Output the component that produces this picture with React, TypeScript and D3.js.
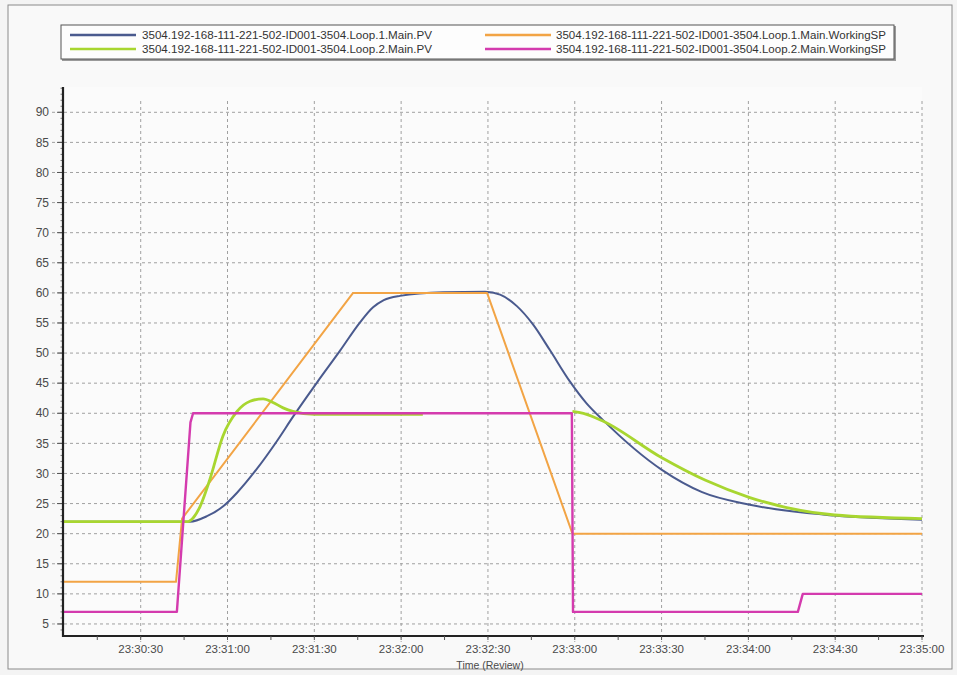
import React from "react";
import * as d3 from "d3";

// ---- data (time = seconds after 23:30:00) ----
const seriesNames = [
  "3504.192-168-111-221-502-ID001-3504.Loop.1.Main.PV",
  "3504.192-168-111-221-502-ID001-3504.Loop.1.Main.WorkingSP",
  "3504.192-168-111-221-502-ID001-3504.Loop.2.Main.PV",
  "3504.192-168-111-221-502-ID001-3504.Loop.2.Main.WorkingSP",
];
const seriesColors = ["#4a5a8e", "#f2a445", "#a8d630", "#d43bae"];

const loop1PvTime = [3.15, 47, 52.9, 58.4, 63.3, 70.2, 77.1, 82.6, 90.9, 98.9, 105.8, 110.3, 114, 119.6, 134.5, 149.0, 154.2, 160.0, 165.5, 171.4, 178.3, 184, 189.7, 210.1, 224, 240.5, 269.8, 300];
const loop1PvValue = [22, 22, 22.9, 24.5, 26.8, 30.8, 35.4, 39.4, 45.1, 50.4, 55.1, 57.6, 58.8, 59.5, 60.1, 60.2, 59.7, 57.8, 54.8, 50.5, 45.3, 41.7, 38.9, 30.6, 26.9, 24.8, 23.0, 22.3];

const loop1SpTime = [3.15, 42.2, 44.3, 103.4, 149.7, 179.2, 300];
const loop1SpValue = [12, 12, 22.5, 60, 60, 20, 20];

const loop2PvTime = [3.15, 46.3, 48.1, 50.5, 53.9, 58.4, 63.3, 67.8, 72.3, 75.7, 79.2, 82.6, 90, 127.5, 128, 179.2, 183, 189.7, 210.1, 225, 240.5, 269.8, 300];
const loop2PvValue = [22, 22, 22.6, 24.5, 29, 36.2, 40.3, 42, 42.4, 41.8, 40.9, 40.3, 39.8, 39.8, null, 40.3, 40.0, 38.7, 32.6, 28.9, 26.0, 23.1, 22.5];

const loop2SpTime = [3.15, 42.5, 47.2, 48.1, 179.0, 179.4, 257.1, 258.8, 300];
const loop2SpValue = [7, 7, 38.5, 40, 40, 7, 7, 10, 10];

const xTickLabels = ["23:30:30", "23:31:00", "23:31:30", "23:32:00", "23:32:30", "23:33:00", "23:33:30", "23:34:00", "23:34:30", "23:35:00"];
const yTickValues = [5, 10, 15, 20, 25, 30, 35, 40, 45, 50, 55, 60, 65, 70, 75, 80, 85, 90];
const xAxisTitle = "Time (Review)";

const base = new Date(2000, 0, 1, 23, 30, 0).getTime();
const toDate = (s: number) => new Date(base + s * 1000);
const parseLabel = (s: string) => {
  const [h, m, sec] = s.split(":").map(Number);
  return new Date(2000, 0, 1, h, m, sec);
};

const W = 957;
const H = 675;
const left = 63;
const right = 922;
const top = 87;
const bottom = 636;

const font = "'Liberation Sans', Arial, sans-serif";

export default function App() {
  const x = d3.scaleTime().domain([toDate(3.15), toDate(300)]).range([left, right]);
  const y = d3.scaleLinear().domain([3, 94.2]).range([bottom, top]);

  const mk = (ts: number[], vs: (number | null)[]) =>
    ts.map((t, i) => ({ d: toDate(t), v: vs[i] }));

  const series = [
    mk(loop1PvTime, loop1PvValue),
    mk(loop1SpTime, loop1SpValue),
    mk(loop2PvTime, loop2PvValue),
    mk(loop2SpTime, loop2SpValue),
  ];
  const curves = [d3.curveMonotoneX, d3.curveLinear, d3.curveMonotoneX, d3.curveLinear];
  const widths = [2, 2, 2.8, 2.4];

  const minorX = d3.range(15, 301, 15).map(toDate);
  const majorX = xTickLabels.map(parseLabel);
  const minorY = d3.range(4, 95, 1);

  return (
    <svg width={W} height={H} style={{ position: "absolute", left: 0, top: 0, background: "#f5f5f5" }}>
      <rect x={0} y={0} width={W} height={H} fill="#f4f4f4" />
      <rect x={8} y={5} width={944} height={664} fill="#f9f9f9" stroke="#8a8a8a" strokeWidth={1} />
      <rect x={left} y={top} width={right - left} height={bottom - top} fill="#fbfbfb" />

      {/* legend */}
      <rect x={62} y={26} width={834} height={35} fill="#9a9a9a" />
      <rect x={61} y={25} width={833} height={34} fill="#fdfdfd" stroke="#555" strokeWidth={1} />
      {seriesNames.map((n, i) => {
        const col = i % 2 === 0 ? 0 : 1;
        const row = i < 2 ? 0 : 1;
        const [lineX, textX] = col === 0 ? [70, 142] : [485, 556];
        const yy = row === 0 ? 35 : 49;
        return (
          <g key={n}>
            <line x1={lineX} x2={lineX + 66} y1={yy} y2={yy} stroke={seriesColors[i]} strokeWidth={2.4} />
            <text x={textX} y={yy + 3.5} fontFamily={font} fontSize={10} fill="#333"
              textLength={col === 0 ? 290 : 330} lengthAdjust="spacingAndGlyphs">
              {n}
            </text>
          </g>
        );
      })}

      {/* grid */}
      {yTickValues.map((v) => (
        <line key={"gy" + v} x1={52} x2={right} y1={y(v)} y2={y(v)} stroke="#a0a0a0" strokeWidth={1} strokeDasharray="3,3" />
      ))}
      {majorX.map((d, i) => (
        <line key={"gx" + i} x1={x(d)} x2={x(d)} y1={top + 14} y2={bottom + 6} stroke="#a0a0a0" strokeWidth={1} strokeDasharray="3,3" />
      ))}

      {/* series */}
      {series.map((data, i) => {
        const line = d3
          .line<{ d: Date; v: number | null }>()
          .defined((p) => p.v !== null)
          .x((p) => x(p.d))
          .y((p) => y(p.v as number))
          .curve(curves[i]);
        return (
          <path key={"s" + i} d={line(data) || ""} fill="none" stroke={seriesColors[i]} strokeWidth={widths[i]} strokeLinejoin="round" />
        );
      })}

      {/* axes */}
      {minorY.map((v) => (
        <line key={"my" + v} x1={left - 2.5} x2={left} y1={y(v)} y2={y(v)} stroke="#555" strokeWidth={0.8} />
      ))}
      {yTickValues.map((v) => (
        <g key={"yt" + v}>
          <line x1={left - 6} x2={left} y1={y(v)} y2={y(v)} stroke="#555" strokeWidth={1} />
          <text x={49} y={y(v) + 4.2} textAnchor="end" fontFamily={font} fontSize={12} fill="#4a4a4a">
            {v}
          </text>
        </g>
      ))}
      <line x1={left} x2={left} y1={top} y2={bottom + 1} stroke="#222" strokeWidth={2.2} />
      <line x1={left - 1} x2={right + 2} y1={bottom} y2={bottom} stroke="#222" strokeWidth={2.2} />
      {minorX.map((d, i) => (
        <line key={"mx" + i} x1={x(d)} x2={x(d)} y1={bottom} y2={bottom + 4} stroke="#555" strokeWidth={1} />
      ))}
      {majorX.map((d, i) => (
        <text key={"xl" + i} x={x(d)} y={bottom + 17} textAnchor="middle" fontFamily={font} fontSize={11.5} fill="#4a4a4a">
          {xTickLabels[i]}
        </text>
      ))}
      <text x={490} y={669} textAnchor="middle" fontFamily={font} fontSize={10.5} fill="#4a4a4a">
        {xAxisTitle}
      </text>
    </svg>
  );
}
